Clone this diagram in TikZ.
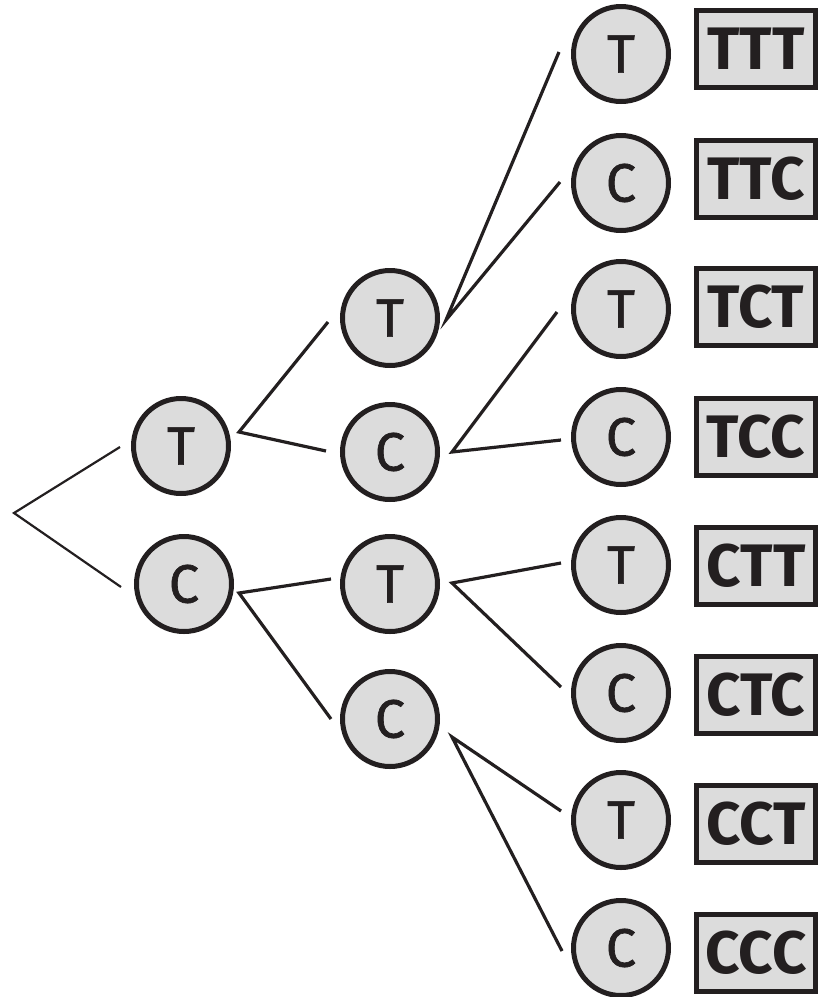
\documentclass[tikz,border=0pt]{standalone}
\usepackage{fontspec}
\setmainfont{Fira Sans}
\newfontfamily\coinfont[FakeBold=1.2]{Fira Sans}
\definecolor{ink}{HTML}{231F20}
\definecolor{pale}{HTML}{DCDCDC}
\tikzset{
  coin/.style={circle, draw=ink, fill=pale, line width=5pt, minimum size=95pt, inner sep=0pt,
    font=\coinfont\fontsize{54}{54}\selectfont, text=ink},
  result/.style={rectangle, draw=ink, fill=pale, line width=5pt, minimum width=119pt, minimum height=77pt,
    inner sep=0pt, font=\fontsize{60}{60}\selectfont\bfseries, text=ink},
  thin/.style={draw=ink, line width=2.2pt},
  link/.style={draw=ink, line width=3.2pt, line join=miter},
}
\begin{document}
\begin{tikzpicture}[x=1pt,y=-1pt]
\useasboundingbox (0,0) rectangle (819,997);
% level 1
\node[coin] (a) at (181,446) {T};
\node[coin] (b) at (184,584) {C};
% level 2
\node[coin] (aa) at (390,318) {T};
\node[coin] (ab) at (390,452) {C};
\node[coin] (ba) at (390,584) {T};
\node[coin] (bb) at (390,719) {C};
% level 3
\node[coin] (aaa) at (621,54) {T};
\node[coin] (aab) at (621,183) {C};
\node[coin] (aba) at (621,309) {T};
\node[coin] (abb) at (621,437) {C};
\node[coin] (baa) at (621,565) {T};
\node[coin] (bab) at (621,693) {C};
\node[coin] (bba) at (621,820) {T};
\node[coin] (bbb) at (621,948) {C};
% results
\node[result] (r1) at (756,49) {TTT};
\node[result] (r2) at (756,179) {TTC};
\node[result] (r3) at (756,307) {TCT};
\node[result] (r4) at (756,437) {TCC};
\node[result] (r5) at (756,566) {CTT};
\node[result] (r6) at (756,695) {CTC};
\node[result] (r7) at (756,824) {CCT};
\node[result] (r8) at (756,953) {CCC};
% root
\coordinate (root) at (14,513);
\draw[thin] ([xshift=-11pt,yshift=-1pt]a.west) -- (root) -- ([xshift=-13pt,yshift=-3pt]b.west);
% vertices
\coordinate (va) at ([xshift=8pt,yshift=14pt]a.east);
\coordinate (vb) at ([xshift=5pt,yshift=-9pt]b.east);
\coordinate (vaa) at ([xshift=6pt,yshift=-2pt]aa.east);
\coordinate (vab) at ([xshift=12pt]ab.east);
\coordinate (vba) at ([xshift=12pt,yshift=1pt]ba.east);
\coordinate (vbb) at ([xshift=12pt,yshift=-18pt]bb.east);
\draw[link] ([xshift=-12pt,yshift=-4pt]aa.west) -- (va) -- ([xshift=-14pt,yshift=1pt]ab.west);
\draw[link] ([xshift=-9pt,yshift=5pt]ba.west) -- (vb) -- ([xshift=-9pt]bb.west);
\draw[link] ([xshift=-12pt,yshift=2pt]aaa.west) -- (vaa) -- ([xshift=-11pt,yshift=1pt]aab.west);
\draw[link] ([xshift=-14pt,yshift=-3pt]aba.west) -- (vab) -- ([xshift=-10pt,yshift=-3pt]abb.west);
\draw[link] ([xshift=-10pt,yshift=2pt]baa.west) -- (vba) -- ([xshift=-10pt,yshift=6pt]bab.west);
\draw[link] ([xshift=-10pt,yshift=9pt]bba.west) -- (vbb) -- ([xshift=-9pt,yshift=-3pt]bbb.west);
\end{tikzpicture}
\end{document}
